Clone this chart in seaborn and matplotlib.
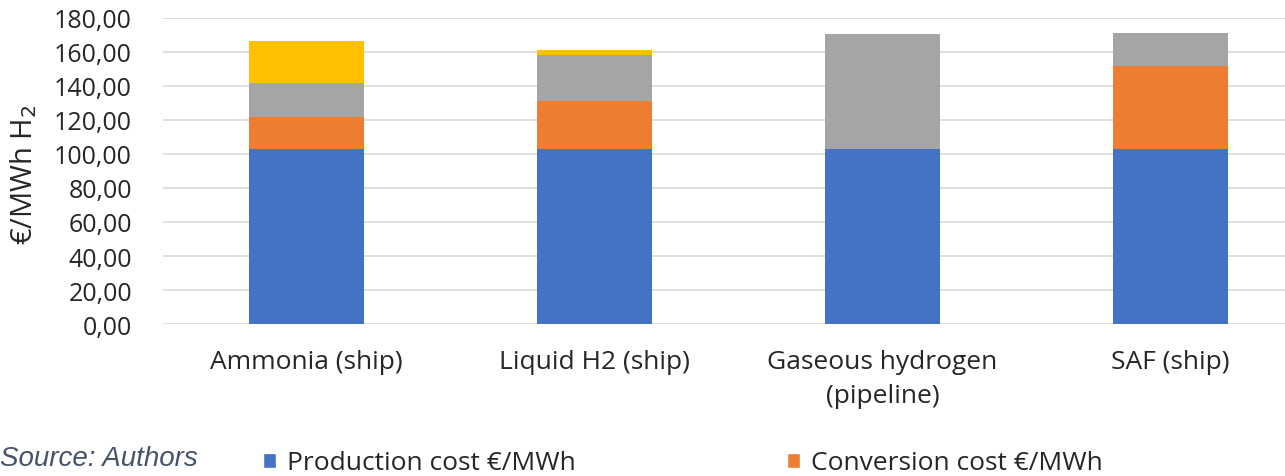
import matplotlib
matplotlib.use("Agg")
import matplotlib.pyplot as plt
import seaborn as sns
import numpy as np
import pandas as pd
from matplotlib.patches import Patch

# values (€/MWh H2)
routes = ["Ammonia (ship)", "Liquid H2 (ship)", "Gaseous hydrogen\n(pipeline)", "SAF (ship)"]
production = [103.0, 103.0, 103.0, 103.0]
conversion = [18.5, 28.2, 0.0, 48.7]
transport = [20.3, 26.8, 67.8, 19.5]
reconversion = [24.6, 3.3, 0.0, 0.0]

colors = {"prod": "#4472C4", "conv": "#ED7D31", "trans": "#A5A5A5", "reconv": "#FFC000"}

df = pd.DataFrame({"route": routes, "prod": production, "conv": conversion,
                   "trans": transport, "reconv": reconversion})
# cumulative heights, drawn tallest first so the lower layers cover them
df["c_prod"] = df["prod"]
df["c_conv"] = df["c_prod"] + df["conv"]
df["c_trans"] = df["c_conv"] + df["trans"]
df["c_reconv"] = df["c_trans"] + df["reconv"]

sns.set_theme(style="white")
plt.rcParams["font.family"] = ["Open Sans", "DejaVu Sans"]

fig = plt.figure(figsize=(12.85, 4.77), dpi=100)
ax = fig.add_axes([162.5 / 1285, 1 - 325 / 477, 1152 / 1285, 306 / 477])

for col, key in [("c_reconv", "reconv"), ("c_trans", "trans"), ("c_conv", "conv"), ("c_prod", "prod")]:
    sns.barplot(data=df, x="route", y=col, color=colors[key], width=0.4,
                saturation=1, linewidth=0, ax=ax, zorder=3)

ticks = np.arange(0, 181, 20)
ax.set_ylim(0, 180)
ax.set_yticks(ticks)
ax.set_yticklabels([f"{v:.2f}".replace(".", ",") for v in ticks], fontsize=18, color="#262626")
ax.set_xticks(range(len(routes)))
ax.set_xticklabels(routes, fontsize=19, color="#262626", linespacing=1.45)
ax.tick_params(axis="x", length=0, pad=18)
ax.tick_params(axis="y", length=0, pad=22)
ax.set_xlabel("")
ax.set_ylabel("€/MWh H$_2$", fontsize=21, color="#262626")
ax.yaxis.label.set_va("center")
ax.yaxis.set_label_coords(-0.12, 0.49)
ax.yaxis.grid(True, color="#d9d9d9", linewidth=1.2, zorder=0)
ax.set_axisbelow(True)
for s in ax.spines.values():
    s.set_visible(False)

handles = [Patch(facecolor=colors["prod"], label="Production cost €/MWh"),
           Patch(facecolor=colors["conv"], label="Conversion cost €/MWh")]
fig.legend(handles=handles, loc="center left", bbox_to_anchor=(263 / 1285, 1 - 464 / 477),
           ncol=2, frameon=False, fontsize=19, handlelength=0.5, handleheight=0.5,
           handletextpad=0.42, columnspacing=8.0, borderpad=0, borderaxespad=0,
           labelcolor="#262626")

fig.text(0, 1 - 459 / 477, "Source: Authors", fontsize=20, style="italic",
         color="#44546A", family=["Liberation Sans", "DejaVu Sans"], va="center", ha="left")

fig.savefig("out.png", dpi=100)
